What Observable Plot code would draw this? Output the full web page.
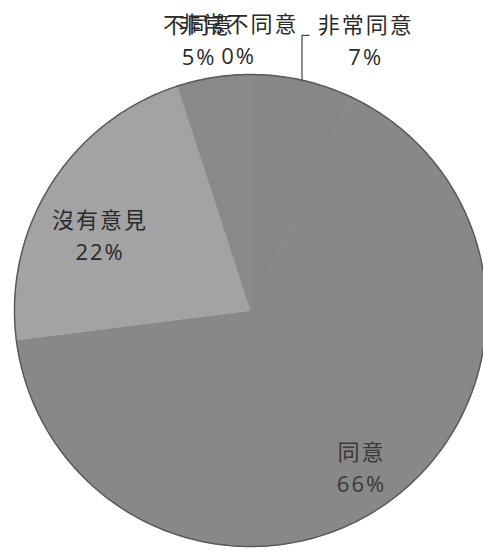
<!DOCTYPE html>
<html>
<head>
<meta charset="utf-8">
<script src="https://cdn.jsdelivr.net/npm/d3@7"></script>
<script src="https://cdn.jsdelivr.net/npm/@observablehq/plot@0.6"></script>
<style>
  html, body { margin: 0; padding: 0; background: #fff; overflow: hidden; }
  #chart svg { display: block; overflow: hidden; }
</style>
</head>
<body>
<div id="chart"></div>
<script>
// ---- data ----
const categories = ["非常同意", "同意", "沒有意見", "不同意", "非常不同意"];
const percents   = [7, 66, 22, 5, 0];

// ---- styles / layout (kept apart from data) ----
const colors = {
  "非常同意": "#878787",
  "同意": "#888888",
  "沒有意見": "#a3a3a3",
  "不同意": "#898989",
  "非常不同意": "#898989"
};
// label anchor radius (fraction of pie radius) and pixel nudges
const labelLayout = {
  "非常同意":   {r: 1.15, dx: 56, dy: -7, color: "#2a2a2a"},
  "同意":       {r: 0.75, dx: 7,  dy: 12, color: "#3a3a3a"},
  "沒有意見":   {r: 0.75, dx: -1, dy: 18, color: "#2a2a2a"},
  "不同意":     {r: 1.15, dx: -9, dy: -4, color: "#2a2a2a"},
  "非常不同意": {r: 1.15, dx: -12, dy: -1, color: "#2a2a2a"}
};
const leaderFor = {"非常同意": {rise: 0.19, run: 0.03}};

// ---- geometry from data ----
const total = d3.sum(percents);
let acc = 0;
const slices = categories.map((c, i) => {
  const a0 = acc / total * 2 * Math.PI;
  acc += percents[i];
  const a1 = acc / total * 2 * Math.PI;
  return {cat: c, pct: percents[i], a0, a1, mid: (a0 + a1) / 2};
});
const polar = (a, r) => ({x: r * Math.sin(a), y: r * Math.cos(a)});

function arcPoints(s, withCenter) {
  const pts = [];
  const n = Math.max(2, Math.ceil((s.a1 - s.a0) / (Math.PI / 180)));
  if (withCenter) pts.push({x: 0, y: 0});
  for (let k = 0; k <= n; k++) pts.push(polar(s.a0 + (s.a1 - s.a0) * k / n, 1));
  if (withCenter) pts.push({x: 0, y: 0});
  return pts;
}

const marks = [];
for (const s of slices) {
  if (s.pct <= 0) continue;
  marks.push(Plot.line(arcPoints(s, true), {x: "x", y: "y", fill: colors[s.cat], stroke: colors[s.cat], strokeWidth: 0.5, curve: "linear"}));
}
for (const s of slices) {
  if (s.pct <= 0) continue;
  marks.push(Plot.line(arcPoints(s, false), {x: "x", y: "y", stroke: "#5a5a5a", strokeWidth: 1.5, curve: "linear"}));
}
// leader lines
for (const s of slices) {
  const L = leaderFor[s.cat];
  if (!L) continue;
  const p = polar(s.mid, 1);
  marks.push(Plot.line([p, {x: p.x, y: p.y + L.rise}, {x: p.x + L.run, y: p.y + L.rise}],
    {x: "x", y: "y", stroke: "#444", strokeWidth: 1.2}));
}
// labels
for (const s of slices) {
  const L = labelLayout[s.cat];
  const p = polar(s.mid, L.r);
  marks.push(Plot.text([{...p, label: s.cat + "\n" + s.pct + "%"}], {
    x: "x", y: "y", text: "label", dx: L.dx, dy: L.dy,
    fontSize: 22, lineHeight: 1.45, fill: L.color,
    fontFamily: "'Open Sans', 'Noto Sans CJK TC', sans-serif",
    textAnchor: "middle", lineAnchor: "middle"
  }));
}

const chart = Plot.plot({
  width: 483,
  height: 551,
  margin: 0,
  x: {domain: [-1, 1], range: [14, 486], axis: null},
  y: {domain: [-1, 1], range: [546, 74], axis: null},
  style: {background: "#fff", letterSpacing: "2px"},
  marks
});
document.getElementById("chart").append(chart);
</script>
</body>
</html>
